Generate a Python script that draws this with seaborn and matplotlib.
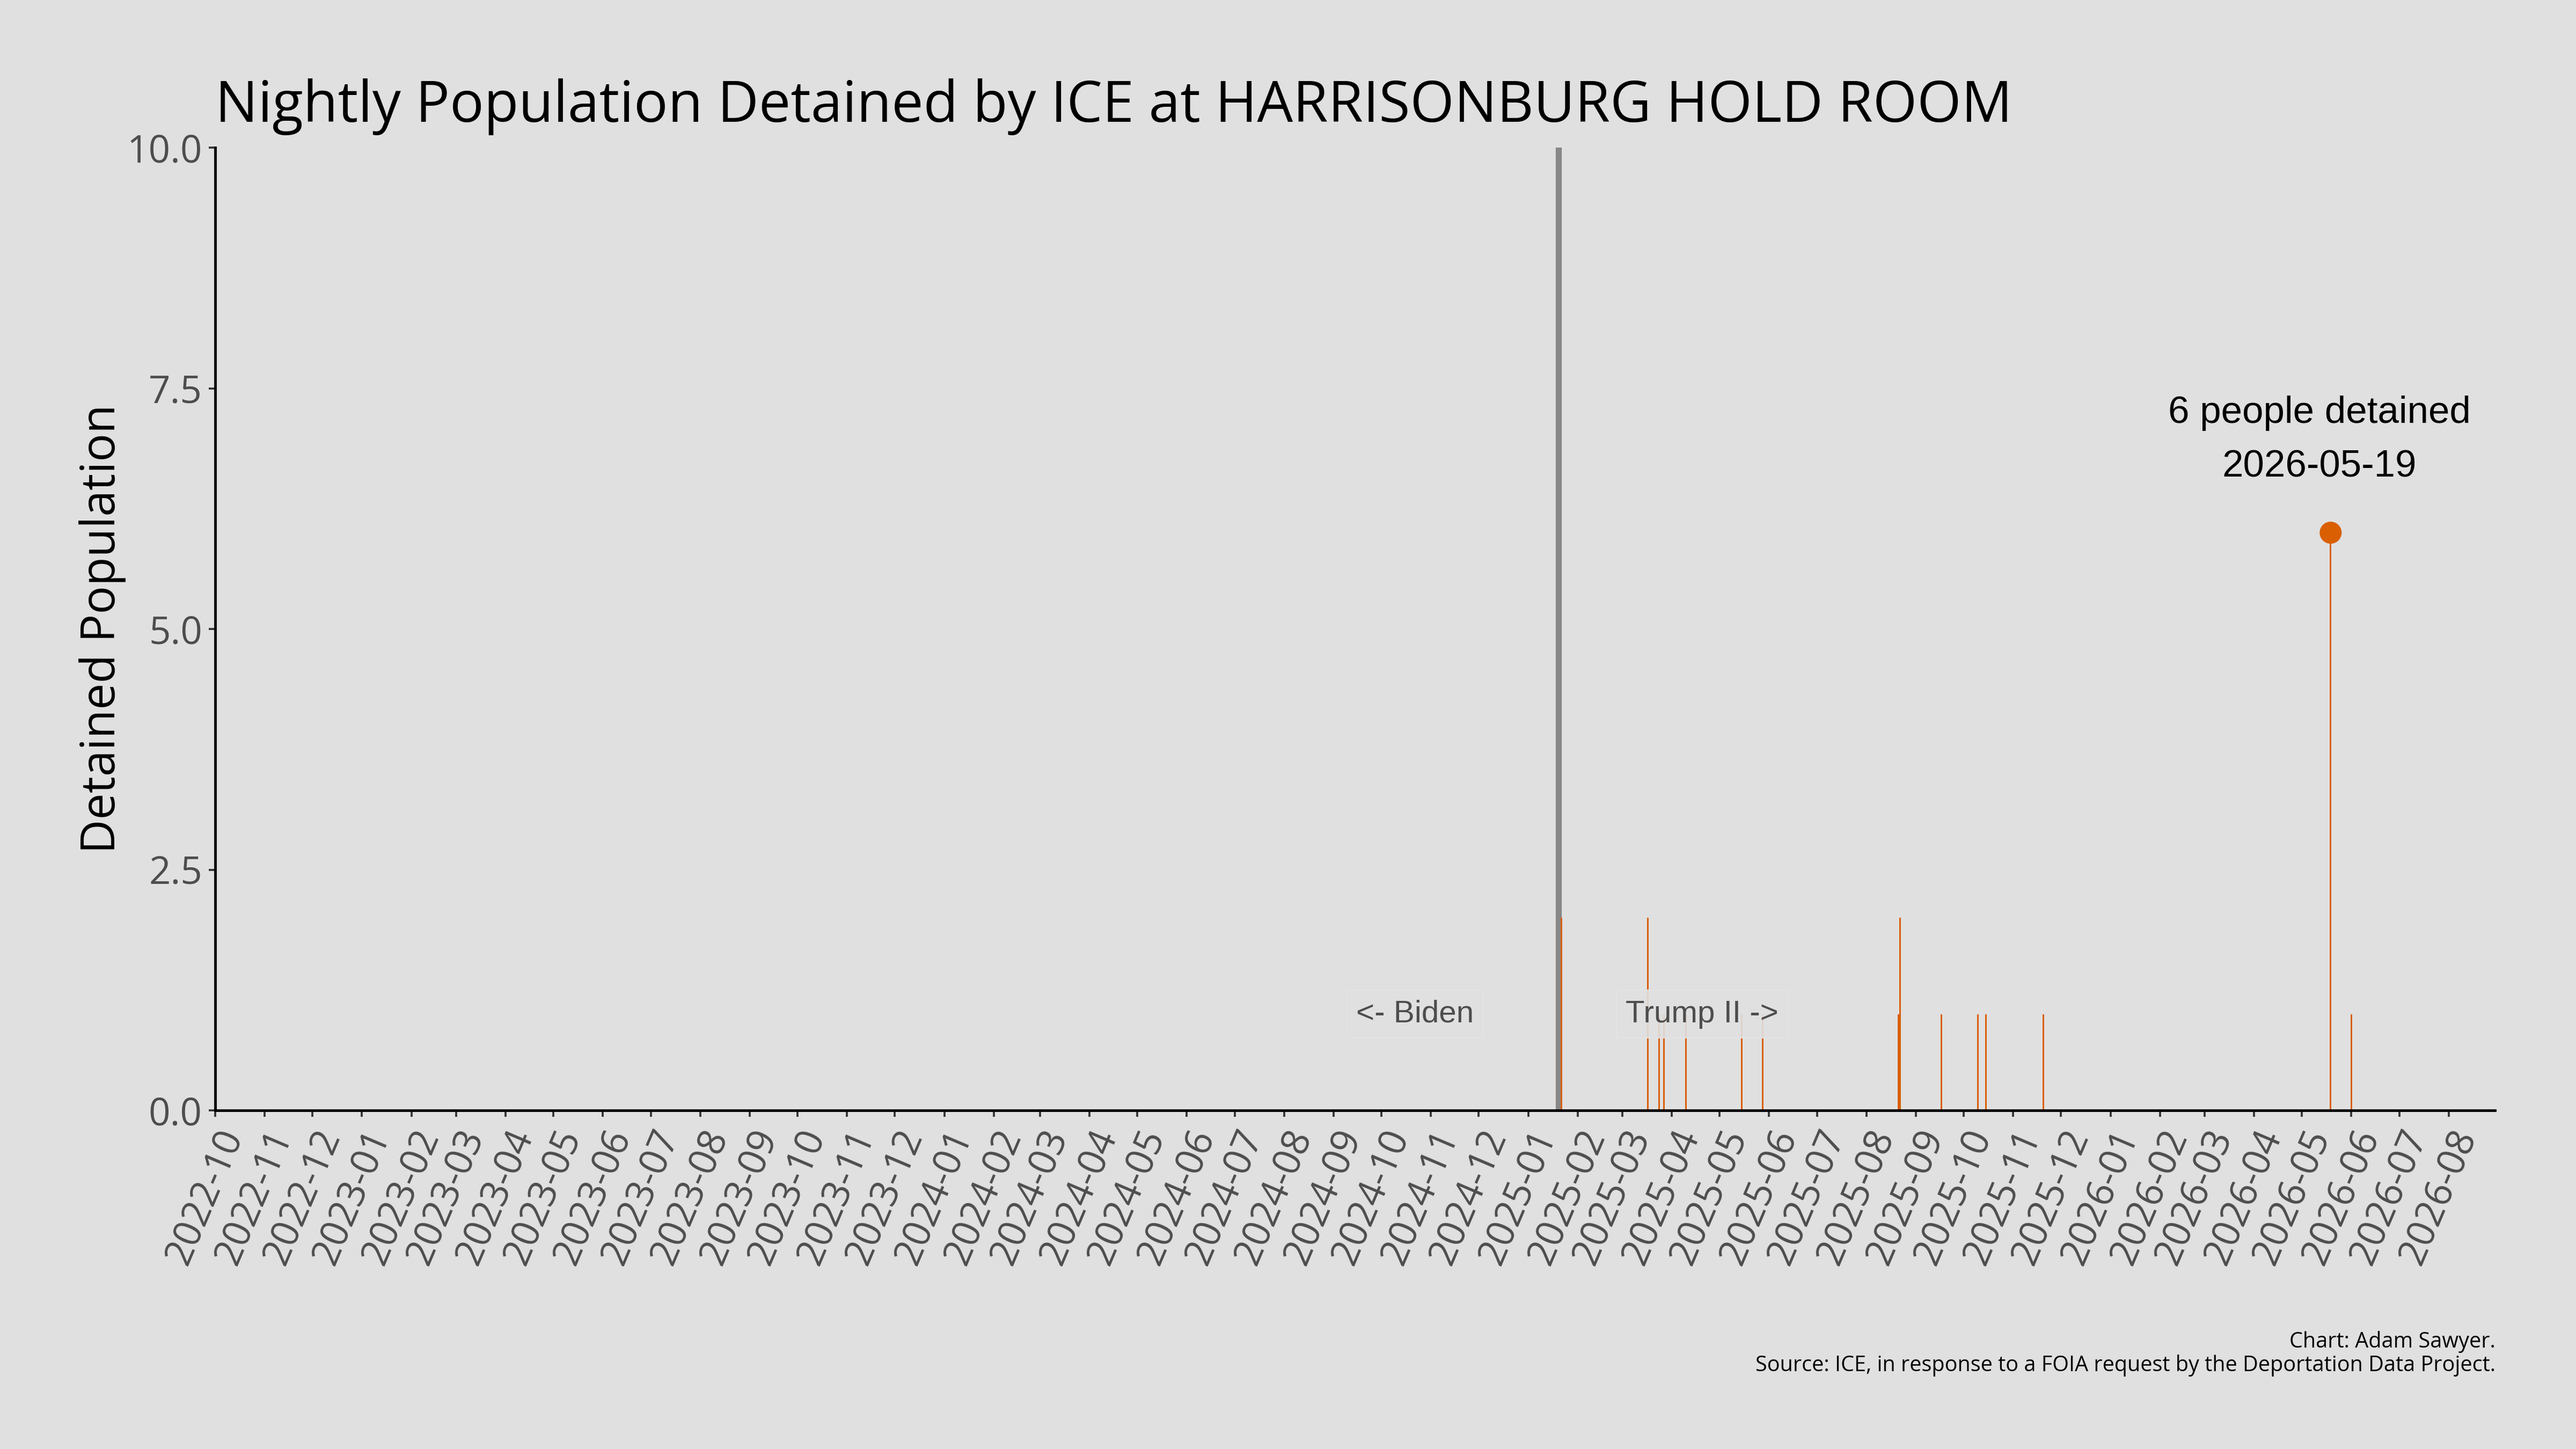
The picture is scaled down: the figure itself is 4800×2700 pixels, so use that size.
import numpy as np
import pandas as pd
import matplotlib
matplotlib.use('Agg')
import matplotlib.pyplot as plt
import matplotlib.dates as mdates
from matplotlib.ticker import FormatStrFormatter
import seaborn as sns

# ---------------- data ----------------
detention_dates = ['2025-01-22', '2025-03-17', '2025-03-24', '2025-03-27', '2025-04-10',
                   '2025-05-15', '2025-05-28', '2025-08-21', '2025-08-22', '2025-09-17',
                   '2025-10-10', '2025-10-15', '2025-11-20', '2026-05-19', '2026-06-01']
detained_population = [2, 2, 1, 1, 1, 1, 1, 1, 2, 1, 1, 1, 1, 6, 1]
inauguration_date = '2025-01-20'
period_labels = ['<- Biden', 'Trump II ->']
y_ticks = [0.0, 2.5, 5.0, 7.5, 10.0]
x_range = ['2022-10-01', '2026-08-30']
title_text = 'Nightly Population Detained by ICE at HARRISONBURG HOLD ROOM'
ylabel_text = 'Detained Population'
caption_lines = ['Chart: Adam Sawyer.',
                 'Source: ICE, in response to a FOIA request by the Deportation Data Project.']

df = pd.DataFrame({'date': pd.to_datetime(detention_dates),
                   'population': detained_population})
peak = df.loc[df['population'].idxmax()]

BG = '#E0E0E0'
ORANGE = '#D95F02'
GREY_TXT = '#4D4D4D'

sns.set_theme(style='ticks', rc={'figure.facecolor': BG, 'axes.facecolor': BG,
                                 'savefig.facecolor': BG})
plt.rcParams['font.family'] = ['Open Sans', 'DejaVu Sans']

fig = plt.figure(figsize=(16, 9), dpi=300)
ax = fig.add_axes([401 / 4800, 1 - 2069 / 2700, (4649 - 401) / 4800, (2069 - 275) / 2700])

ax.bar(df['date'], df['population'], width=1.0, color=ORANGE, linewidth=0, zorder=2)
inaug = pd.Timestamp(inauguration_date)
ax.axvline(inaug, color='#888888', lw=2.7, zorder=1)
sns.scatterplot(x=[peak['date']], y=[peak['population']], ax=ax, s=97, color=ORANGE,
                edgecolor='none', zorder=4, legend=False)

# period labels
box = dict(boxstyle='square,pad=0.3', facecolor=BG, edgecolor='#E4E4E4', linewidth=0.5, alpha=0.9)
ax.text(inaug - pd.Timedelta(days=90), 1, period_labels[0], ha='center', va='center',
        fontsize=14, color=GREY_TXT, family=['Liberation Sans', 'DejaVu Sans'], bbox=box, zorder=5)
ax.text(inaug + pd.Timedelta(days=90), 1, period_labels[1], ha='center', va='center',
        fontsize=14, color=GREY_TXT, family=['Liberation Sans', 'DejaVu Sans'], bbox=box, zorder=5)

# peak annotation
ax.annotate(f"{int(peak['population'])} people detained", (peak['date'], peak['population']),
            xytext=(-5, 49), textcoords='offset points', ha='center', va='baseline',
            fontsize=17, color='black', family=['Liberation Sans', 'DejaVu Sans'])
ax.annotate(peak['date'].strftime('%Y-%m-%d'), (peak['date'], peak['population']),
            xytext=(-5, 25), textcoords='offset points', ha='center', va='baseline',
            fontsize=17, color='black', family=['Liberation Sans', 'DejaVu Sans'])

# axes
ax.set_xlim(pd.Timestamp(x_range[0]), pd.Timestamp(x_range[1]))
ax.set_ylim(0, 10)
ax.set_yticks(y_ticks)
ax.yaxis.set_major_formatter(FormatStrFormatter('%.1f'))
ax.xaxis.set_major_locator(mdates.MonthLocator())
ax.xaxis.set_major_formatter(mdates.DateFormatter('%Y-%m'))
ax.tick_params(axis='both', length=2.9, width=0.9, color='#333333', labelcolor=GREY_TXT,
               labelsize=17)
ax.tick_params(axis='y', pad=2.9)
ax.tick_params(axis='x', pad=3)
for lab in ax.get_xticklabels():
    lab.set_rotation(67)
    lab.set_ha('right')
    lab.set_va('top')
    lab.set_rotation_mode('anchor')

sns.despine(ax=ax)
for s in ['left', 'bottom']:
    ax.spines[s].set_color('black')
    ax.spines[s].set_linewidth(1.2)
ax.grid(False)

ax.set_xlabel('')
ax.set_ylabel(ylabel_text, fontsize=21, color='black')
ax.yaxis.set_label_coords((235 - 401) / (4649 - 401), 0.5)
ax.set_title(title_text, loc='left', fontsize=25.4, pad=11.5, color='black')

fig.text(4650 / 4800, 1 - 2511 / 2700, caption_lines[0], ha='right', va='baseline',
         fontsize=9.5, color='black')
fig.text(4650 / 4800, 1 - 2555 / 2700, caption_lines[1], ha='right', va='baseline',
         fontsize=9.5, color='black')

fig.savefig('out.png', dpi=300, facecolor=BG)
